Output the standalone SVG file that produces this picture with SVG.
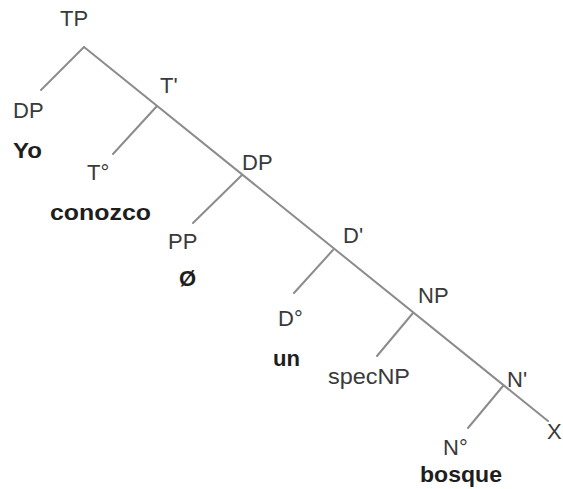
<svg xmlns="http://www.w3.org/2000/svg" width="563" height="489" viewBox="0 0 563 489">
<style>
.l{font-family:"Liberation Sans",Arial,sans-serif;font-size:22px;fill:#3a3a3a}
.b{font-family:"Liberation Sans",Arial,sans-serif;font-size:22px;font-weight:bold;fill:#1e1e1e}
.e{stroke:#8c8c8c;stroke-width:2;fill:none;stroke-linecap:round}
</style>
<rect width="563" height="489" fill="#fff"/>
<g id="connectors">
<line class="e" x1="84" y1="47" x2="548" y2="421"/>
<line class="e" x1="84" y1="47" x2="41" y2="90"/>
<line class="e" x1="157" y1="106" x2="113" y2="154"/>
<line class="e" x1="242" y1="175" x2="193" y2="223"/>
<line class="e" x1="333" y1="250" x2="294" y2="293"/>
<line class="e" x1="413" y1="313" x2="377" y2="356"/>
<line class="e" x1="503" y1="386" x2="468" y2="428"/>
</g>
<g id="TP"><text class="l" x="60" y="26">TP</text></g>
<g id="DP1"><text class="l" x="13" y="118">DP</text><text class="b" x="13" y="158" textLength="29" lengthAdjust="spacingAndGlyphs">Yo</text></g>
<g id="Tbar"><text class="l" x="160" y="93">T'</text></g>
<g id="T0"><text class="l" x="87" y="180">T°</text><text class="b" x="50" y="220" textLength="101" lengthAdjust="spacingAndGlyphs">conozco</text></g>
<g id="DP2"><text class="l" x="242" y="170">DP</text></g>
<g id="PP"><text class="l" x="168" y="249">PP</text><text class="b" x="179" y="286">Ø</text></g>
<g id="Dbar"><text class="l" x="343" y="243">D'</text></g>
<g id="D0"><text class="l" x="278" y="326">D°</text><text class="b" x="273" y="366" textLength="27" lengthAdjust="spacingAndGlyphs">un</text></g>
<g id="NP"><text class="l" x="418" y="303">NP</text></g>
<g id="specNP"><text class="l" x="328" y="384" textLength="82" lengthAdjust="spacingAndGlyphs">specNP</text></g>
<g id="Nbar"><text class="l" x="507" y="387">N'</text></g>
<g id="N0"><text class="l" x="443" y="455">N°</text><text class="b" x="420" y="482" textLength="82" lengthAdjust="spacingAndGlyphs">bosque</text></g>
<g id="X"><text class="l" x="547" y="439">X</text></g>
</svg>
